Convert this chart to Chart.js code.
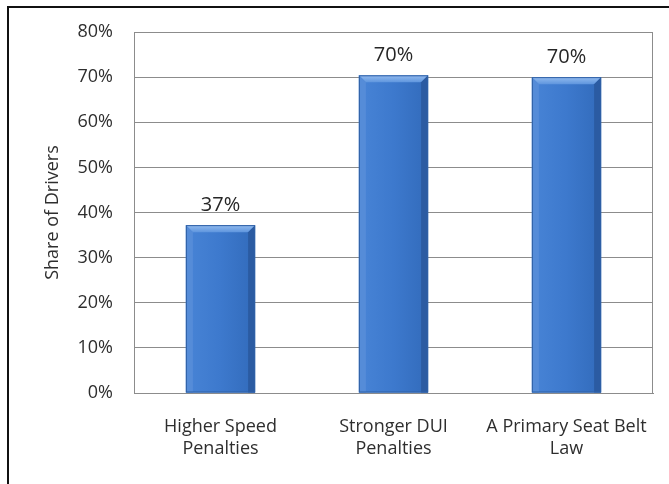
<!DOCTYPE html>
<html lang="en">
  <head>
    <meta charset="UTF-8" />
    <title>Share of Drivers</title>
    <script src="https://cdn.jsdelivr.net/npm/chart.js"></script>
    <style>
      html,
      body {
        margin: 0;
        padding: 0;
        background-color: #ffffff;
        overflow: hidden;
      }
      #frame {
        position: absolute;
        left: 7px;
        top: 6px;
        width: 700px;
        height: 520px;
        border-left: 2px solid #111111;
        border-top: 2px solid #111111;
      }
      #grafico {
        position: absolute;
        left: 0;
        top: 0;
      }
    </style>
  </head>
  <body>
    <div id="frame"></div>
    <canvas id="grafico" width="669" height="484"></canvas>

    <script>
      const categorias = [
        ["Higher Speed", "Penalties"],
        ["Stronger DUI", "Penalties"],
        ["A Primary Seat Belt", "Law"],
      ];
      const valores = [37.2, 70.4, 70.0];
      const yMin = 0;
      const yMax = 80;
      const yPasso = 10;
      const tituloY = "Share of Drivers";

      const fonte = "'Open Sans', sans-serif";

      // barras com bisel, desenhadas em cima das barras normais
      const biselPlugin = {
        id: "bisel",
        afterDatasetsDraw(chart) {
          const ctx = chart.ctx;
          const meta = chart.getDatasetMeta(0);
          meta.data.forEach((el) => {
            const l = el.x - el.width / 2;
            const r = el.x + el.width / 2;
            const t = el.y;
            const b = el.base;
            const bv = 7;

            ctx.save();
            let g = ctx.createLinearGradient(l, 0, r, 0);
            g.addColorStop(0, "#4884d6");
            g.addColorStop(0.5, "#3d79cd");
            g.addColorStop(1, "#326bbb");
            ctx.fillStyle = g;
            ctx.fillRect(l, t, r - l, b - t);

            // bisel de cima
            let gt = ctx.createLinearGradient(0, t, 0, t + bv);
            gt.addColorStop(0, "#93bbef");
            gt.addColorStop(1, "#5f96de");
            ctx.fillStyle = gt;
            ctx.beginPath();
            ctx.moveTo(l, t);
            ctx.lineTo(r, t);
            ctx.lineTo(r - bv, t + bv);
            ctx.lineTo(l + bv, t + bv);
            ctx.closePath();
            ctx.fill();

            // bisel esquerdo
            ctx.fillStyle = "#558cd8";
            ctx.beginPath();
            ctx.moveTo(l, t);
            ctx.lineTo(l + bv, t + bv);
            ctx.lineTo(l + bv, b);
            ctx.lineTo(l, b);
            ctx.closePath();
            ctx.fill();

            // bisel direito
            ctx.fillStyle = "#2b5ba2";
            ctx.beginPath();
            ctx.moveTo(r, t);
            ctx.lineTo(r - bv, t + bv);
            ctx.lineTo(r - bv, b);
            ctx.lineTo(r, b);
            ctx.closePath();
            ctx.fill();

            ctx.strokeStyle = "#2f60a6";
            ctx.lineWidth = 1;
            ctx.strokeRect(l + 0.5, t + 0.5, r - l - 1, b - t - 1);
            ctx.restore();
          });
        },
      };

      // rotulos de valor acima das barras + borda direita da area
      const rotulosPlugin = {
        id: "rotulos",
        afterDraw(chart) {
          const ctx = chart.ctx;
          const area = chart.chartArea;
          ctx.save();
          ctx.strokeStyle = "#8c8c8c";
          ctx.lineWidth = 1;
          ctx.beginPath();
          ctx.moveTo(Math.round(area.right) - 0.5, area.top);
          ctx.lineTo(Math.round(area.right) - 0.5, area.bottom);
          ctx.stroke();

          const meta = chart.getDatasetMeta(0);
          ctx.fillStyle = "#262626";
          ctx.font = "20px " + fonte;
          ctx.textAlign = "center";
          ctx.textBaseline = "alphabetic";
          meta.data.forEach((el, i) => {
            ctx.fillText(Math.round(valores[i]) + "%", el.x, el.y - 14);
          });
          ctx.restore();
        },
      };

      new Chart(document.getElementById("grafico"), {
        type: "bar",
        data: {
          labels: categorias,
          datasets: [
            {
              data: valores,
              backgroundColor: "#3d79cd",
              barPercentage: 0.4,
              categoryPercentage: 1,
            },
          ],
        },
        options: {
          responsive: false,
          animation: false,
          devicePixelRatio: 1,
          layout: { padding: { left: 42, top: 32, right: 16, bottom: 0 } },
          plugins: {
            legend: { display: false },
            tooltip: { enabled: false },
          },
          scales: {
            x: {
              grid: { display: false, drawTicks: false },
              border: { display: true, color: "#8c8c8c" },
              ticks: {
                color: "#2e2e2e",
                padding: 23,
                font: { family: fonte, size: 18, lineHeight: 1.2 },
                maxRotation: 0,
              },
              afterFit(scale) {
                scale.height = 91;
                scale.paddingLeft = 0;
                scale.paddingRight = 0;
              },
            },
            y: {
              min: yMin,
              max: yMax,
              grid: { color: "#8c8c8c", drawTicks: false },
              border: { display: true, color: "#8c8c8c" },
              ticks: {
                stepSize: yPasso,
                color: "#2e2e2e",
                padding: 21,
                font: { family: fonte, size: 18 },
                callback: (v) => v + "%",
              },
              title: {
                display: true,
                text: tituloY,
                color: "#2e2e2e",
                font: { family: fonte, size: 18 },
                padding: 0,
              },
              afterFit(scale) {
                scale.width = 92;
              },
            },
          },
        },
        plugins: [biselPlugin, rotulosPlugin],
      });
    </script>
  </body>
</html>
